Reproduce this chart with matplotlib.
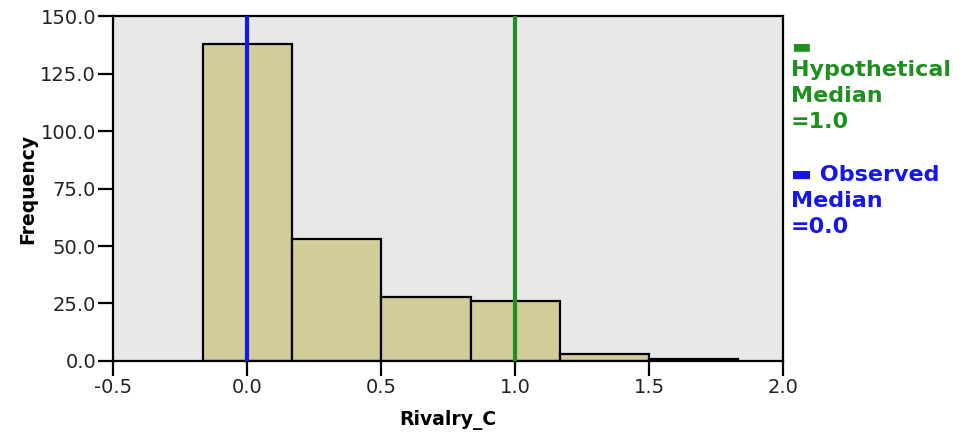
import matplotlib.pyplot as plt
import numpy as np

# histogram of Rivalry_C (bin width 1/3)
bin_edges = [-1/6, 1/6, 0.5, 5/6, 7/6, 1.5, 11/6]
counts = [138, 53, 28, 26, 3, 1]
hyp_median = 1.0
obs_median = 0.0
xticks = [-0.5, 0.0, 0.5, 1.0, 1.5, 2.0]
yticks = [0, 25, 50, 75, 100, 125, 150]

fig = plt.figure(figsize=(9.65, 4.33), dpi=100)
ax = fig.add_axes([0.1176, 0.1663, 0.6938, 0.7967])
ax.set_facecolor('#e8e8e8')

edges = np.array(bin_edges)
ax.bar(edges[:-1], counts, width=np.diff(edges), align='edge',
       color='#d2cd98', edgecolor='black', linewidth=1.6, zorder=2)

ax.axvline(hyp_median, color='#1f8f1f', linewidth=3, zorder=3)
ax.axvline(obs_median, color='#1515ee', linewidth=3, zorder=3)

ax.set_xlim(-0.5, 2.0)
ax.set_ylim(0, 150)
ax.set_xticks(xticks)
ax.set_xticklabels([f'{v:.1f}' for v in xticks])
ax.set_yticks(yticks)
ax.set_yticklabels([f'{v:.1f}' for v in yticks])
ax.tick_params(direction='out', length=10.5, width=1.6, labelsize=14,
               colors='black', labelcolor='#222222', pad=2)
for s in ax.spines.values():
    s.set_linewidth(1.6)

ax.set_xlabel('Rivalry_C', fontsize=13.5, fontweight='bold', labelpad=9)
ax.set_ylabel('Frequency', fontsize=13.5, fontweight='bold', labelpad=2)

# legend text on the right, as in SPSS output
lx = 791 / 965
fig.text(lx, 1 - 46 / 433, '\u25ac', color='#1f8f1f', fontsize=15,
         fontweight='bold', va='center', ha='left')
fig.text(lx, 1 - 96 / 433, 'Hypothetical\nMedian\n=1.0', color='#1f8f1f',
         fontsize=16, fontweight='bold', va='center', ha='left', linespacing=1.4)
fig.text(lx, 1 - 201 / 433, '\u25ac Observed\nMedian\n=0.0', color='#1515ee',
         fontsize=16, fontweight='bold', va='center', ha='left', linespacing=1.4)

fig.savefig('out.png', dpi=100)
